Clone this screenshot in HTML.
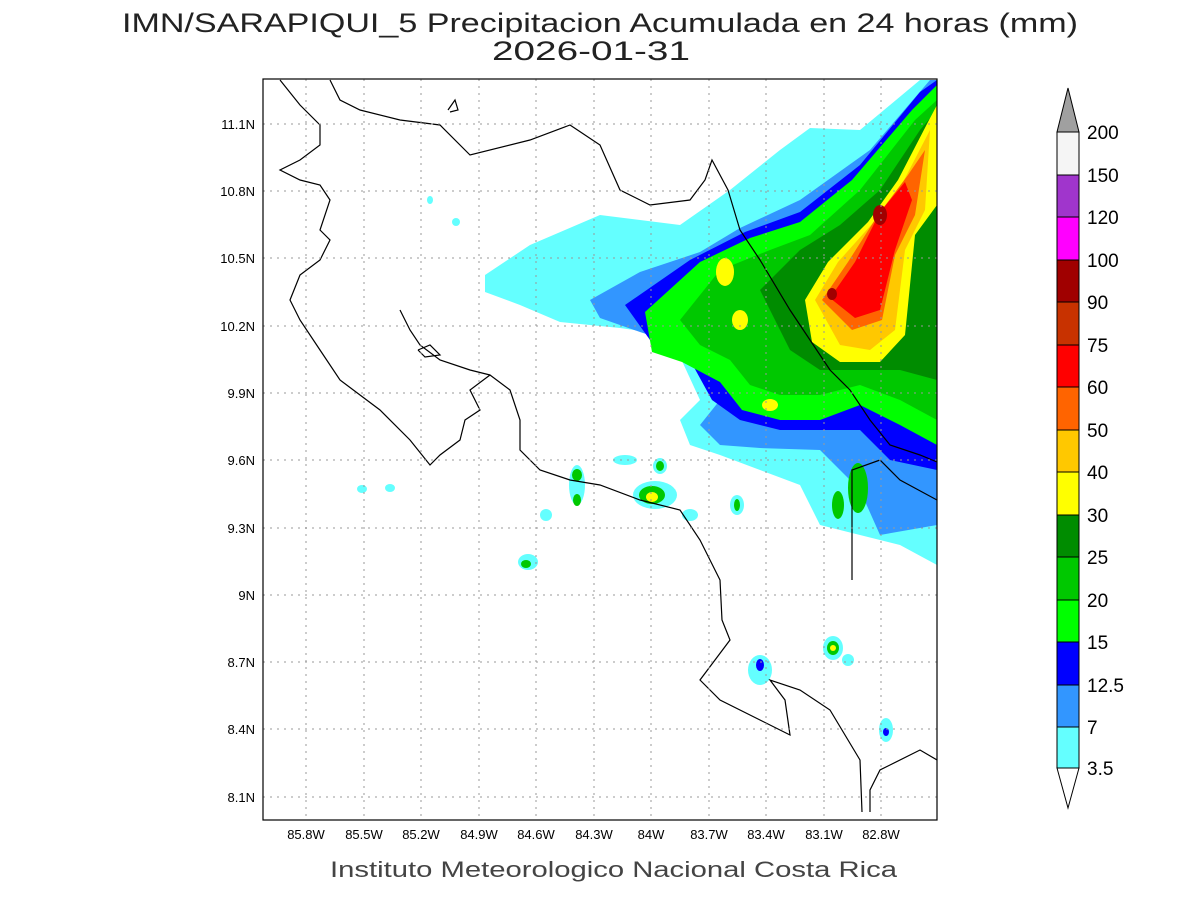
<!DOCTYPE html>
<html><head><style>
body{margin:0;background:#fff;}
svg text{font-family:"Liberation Sans",sans-serif;}
</style></head><body>
<svg width="1200" height="900" xmlns="http://www.w3.org/2000/svg">
<rect width="1200" height="900" fill="#fff"/>
<text x="122" y="32" font-size="27" textLength="956" lengthAdjust="spacingAndGlyphs" fill="#222">IMN/SARAPIQUI_5 Precipitacion Acumulada en 24 horas (mm)</text>
<text x="492" y="60" font-size="27" textLength="198" lengthAdjust="spacingAndGlyphs" fill="#222">2026-01-31</text>
<defs><clipPath id="c"><rect x="263" y="79" width="674" height="741"/></clipPath></defs>
<g clip-path="url(#c)">
<polygon fill="#64ffff" points="485,275 530,245 600,215 680,225 730,190 780,150 810,128 860,130 920,80 937,80 937,565 900,545 860,535 820,525 800,485 760,470 720,455 690,445 680,420 700,400 670,335 620,328 560,322 520,305 485,292"/>
<polygon fill="#3296ff" points="590,300 640,272 700,252 740,228 800,200 870,150 930,80 937,80 937,525 880,535 860,490 820,450 760,448 720,445 700,425 720,400 680,345 640,332 600,318"/>
<polygon fill="#0000ff" points="625,305 690,260 745,232 800,212 860,165 920,92 937,80 937,470 890,460 860,430 820,430 780,430 740,420 712,400 690,360 650,340"/>
<polygon fill="#00ff00" points="645,312 700,262 750,238 800,222 852,180 912,110 937,85 937,445 900,425 860,405 820,420 780,420 742,410 720,382 682,362 652,352"/>
<polygon fill="#00c800" points="680,320 720,270 770,250 810,235 860,190 915,120 937,100 937,420 900,400 860,385 820,395 780,395 750,385 730,360 700,345"/>
<polygon fill="#008c00" points="760,290 800,250 840,225 880,190 920,130 937,110 937,380 900,370 860,370 820,370 790,350"/>
<polygon fill="#ffff00" points="805,300 828,262 868,222 898,180 928,122 937,105 937,205 915,235 905,335 880,362 840,362 812,342"/>
<polygon fill="#ffc800" points="815,300 838,262 872,224 902,184 930,130 925,210 905,250 895,330 870,350 840,345"/>
<polygon fill="#ff6400" points="822,300 848,262 878,215 908,175 925,150 915,215 895,255 882,320 852,330"/>
<polygon fill="#ff0000" points="830,298 855,262 880,212 905,182 912,200 895,250 880,310 855,318"/>
<ellipse cx="880" cy="215" rx="7" ry="10" fill="#a00000"/>
<ellipse cx="832" cy="294" rx="5" ry="6" fill="#a00000"/>
<ellipse cx="725" cy="272" rx="9" ry="14" fill="#ffff00"/>
<ellipse cx="770" cy="405" rx="8" ry="6" fill="#ffff00"/>
<ellipse cx="740" cy="320" rx="8" ry="10" fill="#ffff00"/>
<ellipse cx="655" cy="495" rx="22" ry="14" fill="#64ffff"/><ellipse cx="652" cy="495" rx="13" ry="9" fill="#00c800"/><ellipse cx="652" cy="497" rx="6" ry="5" fill="#ffff00"/>
<ellipse cx="577" cy="485" rx="8" ry="20" fill="#64ffff"/><ellipse cx="577" cy="475" rx="5" ry="6" fill="#00c800"/><ellipse cx="577" cy="500" rx="4" ry="6" fill="#00c800"/>
<ellipse cx="660" cy="466" rx="7" ry="8" fill="#64ffff"/><ellipse cx="660" cy="466" rx="4" ry="5" fill="#00c800"/>
<ellipse cx="625" cy="460" rx="12" ry="5" fill="#64ffff"/>
<ellipse cx="737" cy="505" rx="7" ry="10" fill="#64ffff"/><ellipse cx="737" cy="505" rx="3" ry="6" fill="#00c800"/>
<ellipse cx="528" cy="562" rx="10" ry="8" fill="#64ffff"/><ellipse cx="526" cy="564" rx="5" ry="4" fill="#00c800"/>
<ellipse cx="546" cy="515" rx="6" ry="6" fill="#64ffff"/>
<ellipse cx="690" cy="515" rx="8" ry="6" fill="#64ffff"/>
<ellipse cx="833" cy="648" rx="10" ry="12" fill="#64ffff"/><ellipse cx="833" cy="648" rx="6" ry="7" fill="#00c800"/><ellipse cx="833" cy="648" rx="3" ry="3" fill="#ffff00"/>
<ellipse cx="760" cy="670" rx="12" ry="15" fill="#64ffff"/><ellipse cx="760" cy="665" rx="4" ry="6" fill="#0000ff"/>
<ellipse cx="886" cy="730" rx="7" ry="12" fill="#64ffff"/><ellipse cx="886" cy="732" rx="3" ry="4" fill="#0000ff"/>
<ellipse cx="848" cy="660" rx="6" ry="6" fill="#64ffff"/>
<ellipse cx="858" cy="488" rx="10" ry="25" fill="#00c800"/>
<ellipse cx="838" cy="505" rx="6" ry="14" fill="#00c800"/>
<ellipse cx="362" cy="489" rx="5" ry="4" fill="#64ffff"/><ellipse cx="390" cy="488" rx="5" ry="4" fill="#64ffff"/>
<ellipse cx="456" cy="222" rx="4" ry="4" fill="#64ffff"/><ellipse cx="430" cy="200" rx="3" ry="4" fill="#64ffff"/>
<g fill="none" stroke="#000" stroke-width="1.2">
<polyline points="280,80 300,105 320,125 320,145 300,160 280,170 300,180 320,185 330,200 320,230 330,240 320,260 300,275 290,300 300,320 320,350 340,380 380,410 410,440 430,465 440,455 460,440 465,420 480,410 470,390 490,375 510,390 520,420 520,450 540,470 570,480 600,485 640,500 680,510 700,540 720,580 722,620 730,640 715,660 700,680 720,700 760,720 790,735 785,700 770,680 800,690 830,710 860,760 862,812"/>
<polyline points="870,812 870,790 880,770 920,750 937,760"/>
<polyline points="400,310 410,330 420,345 440,360 470,370 490,375"/>
<polyline points="418,350 430,345 440,355 425,357 418,350"/>
<polyline points="330,80 340,100 360,110 400,120 440,125 470,155 530,140 570,125 600,145 620,190 650,205 690,200 705,180 712,160 728,190 740,230 760,260 790,310 810,340 830,370 850,390 870,420 890,445 920,455 937,462"/>
<polyline points="448,110 455,100 458,110 450,112"/>
<polyline points="852,580 852,470 880,460 900,480 937,500"/>
</g>
</g>
<g stroke="#999" stroke-width="1" stroke-dasharray="2,5">
<line x1="306" y1="79" x2="306" y2="820"/><line x1="364" y1="79" x2="364" y2="820"/><line x1="421" y1="79" x2="421" y2="820"/><line x1="479" y1="79" x2="479" y2="820"/><line x1="536" y1="79" x2="536" y2="820"/><line x1="594" y1="79" x2="594" y2="820"/><line x1="651" y1="79" x2="651" y2="820"/><line x1="709" y1="79" x2="709" y2="820"/><line x1="766" y1="79" x2="766" y2="820"/><line x1="824" y1="79" x2="824" y2="820"/><line x1="881" y1="79" x2="881" y2="820"/>
<line x1="263" y1="124" x2="937" y2="124"/><line x1="263" y1="191" x2="937" y2="191"/><line x1="263" y1="258" x2="937" y2="258"/><line x1="263" y1="326" x2="937" y2="326"/><line x1="263" y1="393" x2="937" y2="393"/><line x1="263" y1="460" x2="937" y2="460"/><line x1="263" y1="528" x2="937" y2="528"/><line x1="263" y1="595" x2="937" y2="595"/><line x1="263" y1="662" x2="937" y2="662"/><line x1="263" y1="729" x2="937" y2="729"/><line x1="263" y1="797" x2="937" y2="797"/>
</g>
<rect x="263" y="79" width="674" height="741" fill="none" stroke="#000" stroke-width="1.2"/>
<g font-size="13" fill="#000" text-anchor="middle">
<text x="306" y="839">85.8W</text><text x="364" y="839">85.5W</text><text x="421" y="839">85.2W</text><text x="479" y="839">84.9W</text><text x="536" y="839">84.6W</text><text x="594" y="839">84.3W</text><text x="651" y="839">84W</text><text x="709" y="839">83.7W</text><text x="766" y="839">83.4W</text><text x="824" y="839">83.1W</text><text x="881" y="839">82.8W</text>
</g>
<g font-size="13" fill="#000" text-anchor="end">
<text x="255" y="129">11.1N</text><text x="255" y="196">10.8N</text><text x="255" y="263">10.5N</text><text x="255" y="331">10.2N</text><text x="255" y="398">9.9N</text><text x="255" y="465">9.6N</text><text x="255" y="533">9.3N</text><text x="255" y="600">9N</text><text x="255" y="667">8.7N</text><text x="255" y="734">8.4N</text><text x="255" y="802">8.1N</text>
</g>
<text x="330" y="877" font-size="22" textLength="567" lengthAdjust="spacingAndGlyphs" fill="#444">Instituto Meteorologico Nacional Costa Rica</text>
<g stroke="#000" stroke-width="1">
<polygon points="1057,132 1068,88 1079,132" fill="#a0a0a0"/>
<rect x="1057" y="132" width="22" height="43" fill="#f5f5f5"/>
<rect x="1057" y="175" width="22" height="42" fill="#a035cc"/>
<rect x="1057" y="217" width="22" height="43" fill="#ff00ff"/>
<rect x="1057" y="260" width="22" height="42" fill="#a00000"/>
<rect x="1057" y="302" width="22" height="43" fill="#c83200"/>
<rect x="1057" y="345" width="22" height="42" fill="#ff0000"/>
<rect x="1057" y="387" width="22" height="43" fill="#ff6400"/>
<rect x="1057" y="430" width="22" height="42" fill="#ffc800"/>
<rect x="1057" y="472" width="22" height="43" fill="#ffff00"/>
<rect x="1057" y="515" width="22" height="42" fill="#008c00"/>
<rect x="1057" y="557" width="22" height="43" fill="#00c800"/>
<rect x="1057" y="600" width="22" height="42" fill="#00ff00"/>
<rect x="1057" y="642" width="22" height="43" fill="#0000ff"/>
<rect x="1057" y="685" width="22" height="42" fill="#3296ff"/>
<rect x="1057" y="727" width="22" height="41" fill="#64ffff"/>
<polygon points="1057,768 1068,808 1079,768" fill="#fff"/>
</g>
<g font-size="19" fill="#000">
<text x="1087" y="139">200</text><text x="1087" y="182">150</text><text x="1087" y="224">120</text><text x="1087" y="267">100</text><text x="1087" y="309">90</text><text x="1087" y="352">75</text><text x="1087" y="394">60</text><text x="1087" y="437">50</text><text x="1087" y="479">40</text><text x="1087" y="522">30</text><text x="1087" y="564">25</text><text x="1087" y="607">20</text><text x="1087" y="649">15</text><text x="1087" y="692">12.5</text><text x="1087" y="734">7</text><text x="1087" y="775">3.5</text>
</g>
</svg>
</body></html>
